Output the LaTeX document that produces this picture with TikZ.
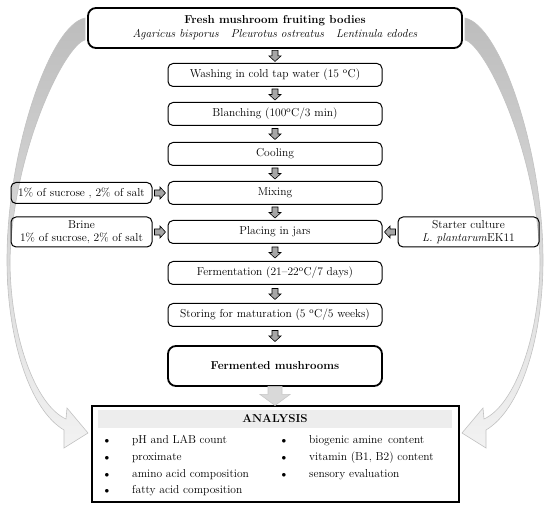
\documentclass[tikz,border=0pt]{standalone}
\usetikzlibrary{calc}
\begin{document}
\begin{tikzpicture}[x=1pt,y=-1pt,
  font=\fontsize{11.5}{13.5}\selectfont,
  box/.style={draw, line width=1pt, rounded corners=5pt, minimum width=214pt, minimum height=23pt, inner sep=1pt, align=center},
  sidebox/.style={draw, line width=1pt, rounded corners=5pt, minimum width=141pt, inner sep=1pt, align=center},
  bigbox/.style={draw, line width=1.8pt, rounded corners=8pt, align=center},
  curvearr/.style={top color=black!26, bottom color=black!5, draw=black!24, line width=0.6pt, line join=miter},
  dnarr/.pic={\draw[fill=black!35, line width=0.6pt, line join=miter] (-3,-5.5)--(3,-5.5)--(3,0)--(6,0)--(0,5.5)--(-6,0)--(-3,0)--cycle;},
  bigarr/.pic={\draw[fill=black!15, draw=black!22, line width=0.6pt, line join=miter] (-7,-9.5)--(7,-9.5)--(7,-1.5)--(15,-1.5)--(0,9.5)--(-15,-1.5)--(-7,-1.5)--cycle;},
  bul/.style={inner sep=0pt, font=\fontsize{9}{10}\selectfont},
  itm/.style={anchor=west, inner sep=0pt}
]
\useasboundingbox (0,0) rectangle (550,510);

% curved grey arrows
\shadedraw[curvearr]
  (85,18) .. controls (50,25) and (7,150) .. (7,260)
  .. controls (7,340) and (30,410) .. (64,430)
  -- (64,448) -- (88,433) -- (67,408) -- (66,419)
  .. controls (35,405) and (10,335) .. (10,260)
  .. controls (13,150) and (65,45) .. (85,40) -- cycle;
\shadedraw[curvearr]
  (465,18) .. controls (500,25) and (543,150) .. (543,260)
  .. controls (543,340) and (520,410) .. (486,430)
  -- (486,448) -- (462,433) -- (483,408) -- (484,419)
  .. controls (515,405) and (540,335) .. (540,260)
  .. controls (537,150) and (485,45) .. (465,40) -- cycle;

% main column
\node[bigbox, minimum width=374pt, minimum height=40pt, inner sep=1pt] (top) at (275,28)
  {\textbf{Fresh mushroom fruiting bodies}\\[0.5pt]
   \textit{Agaricus bisporus}\hspace{12pt}\textit{Pleurotus ostreatus}\hspace{12pt}\textit{Lentinula edodes}};
\node[box] (wash) at (275,75) {Washing in cold tap water (15 \textsuperscript{o}C)};
\node[box] (blanch) at (275,114) {Blanching (100\textsuperscript{o}C/3 min)};
\node[box] (cool) at (275,154) {Cooling};
\node[box] (mix) at (275,193) {Mixing};
\node[box] (place) at (275,232) {Placing in jars};
\node[box] (ferm) at (275,273) {Fermentation (21--22\textsuperscript{o}C/7 days)};
\node[box] (store) at (275,315) {Storing for maturation (5 \textsuperscript{o}C/5 weeks)};
\node[bigbox, minimum width=214pt, minimum height=40pt] (fmush) at (275,366) {\textbf{Fermented mushrooms}};

% side boxes
\node[sidebox, minimum height=21pt] (mixin) at (81.5,193) {1\% of sucrose , 2\% of salt};
\node[sidebox, minimum height=30pt] (brine) at (81.5,232) {Brine\\1\% of sucrose, 2\% of salt};
\node[sidebox, minimum height=30pt] (starter) at (468.5,232) {Starter culture\\\textit{L. plantarum}EK11};

% small block arrows
\pic at ($(top.south)!0.5!(wash.north)$) {dnarr};
\pic at ($(wash.south)!0.5!(blanch.north)$) {dnarr};
\pic at ($(blanch.south)!0.5!(cool.north)$) {dnarr};
\pic at ($(cool.south)!0.5!(mix.north)$) {dnarr};
\pic at ($(mix.south)!0.5!(place.north)$) {dnarr};
\pic at ($(place.south)!0.5!(ferm.north)$) {dnarr};
\pic at ($(ferm.south)!0.5!(store.north)$) {dnarr};
\pic at ($(store.south)!0.5!(fmush.north)$) {dnarr};
\pic[rotate=90] at ($(mixin.east)!0.5!(mix.west)$) {dnarr};
\pic[rotate=90] at ($(brine.east)!0.5!(place.west)$) {dnarr};
\pic[rotate=-90] at ($(starter.west)!0.5!(place.east)$) {dnarr};

% analysis
\node[draw, line width=2pt, minimum width=367pt, minimum height=96pt] (anal) at (275,454) {};
\pic at ($(fmush.south)!0.5!(anal.north)$) {bigarr};
\node[fill=black!7, minimum width=354pt, minimum height=18pt, inner sep=0pt] (ahead) at (275,419) {\textbf{ANALYSIS}};

\node[bul] (b1) at (107,441) {$\bullet$};
\node[bul] (b2) at (107,458) {$\bullet$};
\node[bul] (b3) at (107,475) {$\bullet$};
\node[bul] (b4) at (107,491) {$\bullet$};
\node[bul] (b5) at (284,441) {$\bullet$};
\node[bul] (b6) at (284,458) {$\bullet$};
\node[bul] (b7) at (284,475) {$\bullet$};
\node[itm] (t1) at (132,441) {pH and LAB count};
\node[itm] (t2) at (132,458) {proximate};
\node[itm] (t3) at (132,475) {amino acid composition};
\node[itm] (t4) at (132,491) {fatty acid composition};
\node[itm] (t5) at (309,441) {biogenic amine\, content};
\node[itm] (t6) at (309,458) {vitamin (B1, B2) content};
\node[itm] (t7) at (309,475) {sensory evaluation};
\end{tikzpicture}
\end{document}
